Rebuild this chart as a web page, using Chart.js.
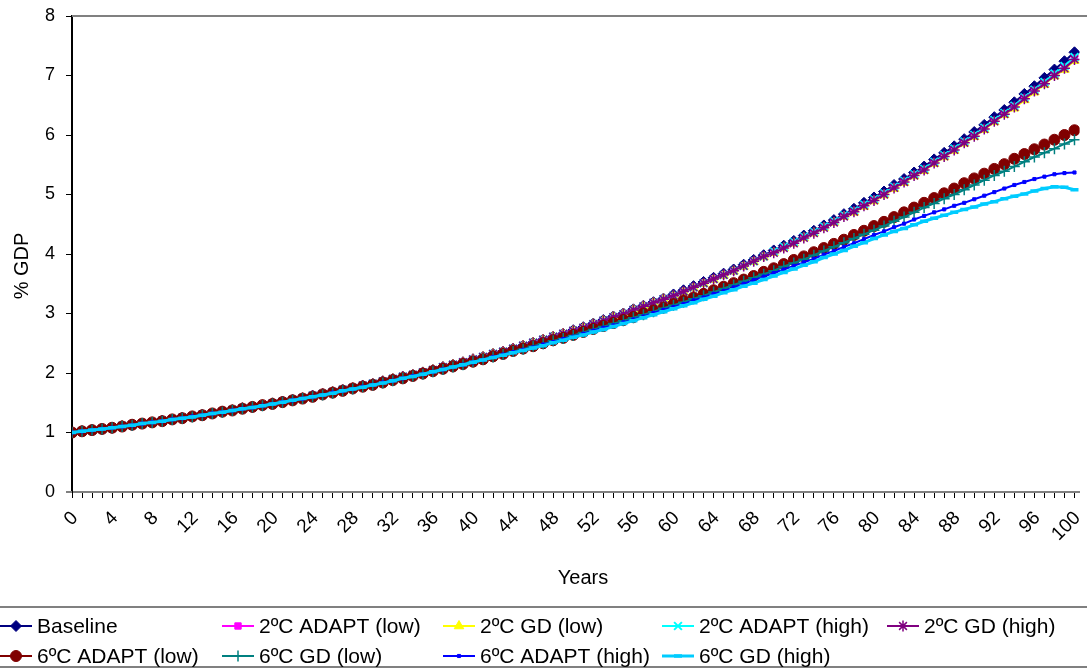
<!DOCTYPE html>
<html><head><meta charset="utf-8">
<script src="https://cdn.jsdelivr.net/npm/chart.js@4/dist/chart.umd.min.js"></script>
<style>html,body{margin:0;padding:0;background:#fff;overflow:hidden}#wrap{width:1087px;height:669px;position:relative}canvas{display:block}</style>
</head><body><div id="wrap"><canvas id="c" width="1087" height="669"></canvas></div>
<script>
const years = [0,1,2,3,4,5,6,7,8,9,10,11,12,13,14,15,16,17,18,19,20,21,22,23,24,25,26,27,28,29,30,31,32,33,34,35,36,37,38,39,40,41,42,43,44,45,46,47,48,49,50,51,52,53,54,55,56,57,58,59,60,61,62,63,64,65,66,67,68,69,70,71,72,73,74,75,76,77,78,79,80,81,82,83,84,85,86,87,88,89,90,91,92,93,94,95,96,97,98,99,100];

const baseline = [1.00,1.02,1.04,1.06,1.08,1.11,1.13,1.15,1.17,1.20,
 1.22,1.25,1.27,1.30,1.32,1.35,1.38,1.41,1.43,1.46,
 1.49,1.52,1.55,1.58,1.62,1.65,1.68,1.72,1.75,1.79,
 1.82,1.86,1.90,1.94,1.97,2.01,2.05,2.10,2.14,2.18,
 2.23,2.27,2.32,2.36,2.41,2.46,2.51,2.56,2.61,2.66,
 2.72,2.77,2.83,2.89,2.95,3.00,3.07,3.13,3.19,3.25,
 3.32,3.39,3.46,3.53,3.60,3.67,3.74,3.82,3.90,3.98,
 4.06,4.14,4.22,4.31,4.39,4.48,4.57,4.67,4.76,4.86,
 4.95,5.05,5.16,5.26,5.37,5.47,5.59,5.70,5.81,5.93,
 6.05,6.17,6.30,6.42,6.55,6.69,6.82,6.96,7.10,7.24,
 7.39];

const adapt2Low = [1.00,1.02,1.04,1.06,1.08,1.11,1.13,1.15,1.17,1.20,
 1.22,1.25,1.27,1.30,1.32,1.35,1.38,1.41,1.43,1.46,
 1.49,1.52,1.55,1.58,1.62,1.65,1.68,1.72,1.75,1.79,
 1.82,1.86,1.90,1.94,1.97,2.01,2.05,2.10,2.14,2.18,
 2.23,2.27,2.32,2.36,2.41,2.46,2.51,2.56,2.61,2.66,
 2.71,2.76,2.82,2.88,2.94,2.99,3.06,3.12,3.18,3.24,
 3.30,3.37,3.44,3.51,3.58,3.65,3.72,3.80,3.88,3.96,
 4.03,4.11,4.19,4.28,4.36,4.45,4.54,4.64,4.72,4.82,
 4.91,5.01,5.12,5.22,5.33,5.42,5.54,5.65,5.76,5.88,
 5.99,6.11,6.24,6.36,6.48,6.62,6.75,6.88,7.02,7.14,
 7.29];

const gd2Low = [1.00,1.02,1.04,1.06,1.08,1.11,1.13,1.15,1.17,1.20,
 1.22,1.25,1.27,1.30,1.32,1.35,1.38,1.41,1.43,1.46,
 1.49,1.52,1.55,1.58,1.62,1.65,1.68,1.72,1.75,1.79,
 1.82,1.86,1.90,1.94,1.97,2.01,2.05,2.10,2.14,2.18,
 2.23,2.27,2.32,2.36,2.41,2.46,2.51,2.56,2.61,2.66,
 2.71,2.76,2.82,2.88,2.94,2.99,3.06,3.12,3.18,3.24,
 3.29,3.36,3.43,3.50,3.57,3.64,3.71,3.79,3.87,3.95,
 4.02,4.10,4.18,4.27,4.35,4.44,4.53,4.63,4.70,4.80,
 4.89,4.99,5.10,5.20,5.31,5.40,5.52,5.63,5.74,5.86,
 5.97,6.09,6.22,6.34,6.45,6.59,6.72,6.85,6.99,7.10,
 7.25];

const adapt2High = [1.00,1.02,1.04,1.06,1.08,1.11,1.13,1.15,1.17,1.20,
 1.22,1.25,1.27,1.30,1.32,1.35,1.38,1.41,1.43,1.46,
 1.49,1.52,1.55,1.58,1.62,1.65,1.68,1.72,1.75,1.79,
 1.82,1.86,1.90,1.94,1.97,2.01,2.05,2.10,2.14,2.18,
 2.23,2.27,2.32,2.36,2.41,2.46,2.51,2.56,2.61,2.66,
 2.71,2.76,2.82,2.88,2.94,2.99,3.06,3.12,3.18,3.24,
 3.30,3.37,3.44,3.51,3.58,3.65,3.72,3.80,3.88,3.96,
 4.04,4.12,4.20,4.29,4.37,4.46,4.55,4.65,4.73,4.83,
 4.92,5.02,5.13,5.23,5.34,5.43,5.55,5.66,5.77,5.89,
 6.00,6.12,6.25,6.37,6.49,6.63,6.76,6.89,7.03,7.16,
 7.31];

const gd2High = [1.00,1.02,1.04,1.06,1.08,1.11,1.13,1.15,1.17,1.20,
 1.22,1.25,1.27,1.30,1.32,1.35,1.38,1.41,1.43,1.46,
 1.49,1.52,1.55,1.58,1.62,1.65,1.68,1.72,1.75,1.79,
 1.82,1.86,1.90,1.94,1.97,2.01,2.05,2.10,2.14,2.18,
 2.23,2.27,2.32,2.36,2.41,2.46,2.51,2.56,2.61,2.66,
 2.71,2.76,2.82,2.88,2.94,2.99,3.06,3.12,3.18,3.24,
 3.30,3.37,3.44,3.51,3.58,3.65,3.72,3.80,3.88,3.96,
 4.02,4.10,4.18,4.27,4.35,4.44,4.53,4.63,4.71,4.81,
 4.90,5.00,5.11,5.21,5.32,5.41,5.53,5.64,5.75,5.87,
 5.98,6.10,6.23,6.35,6.47,6.61,6.74,6.86,7.00,7.12,
 7.27];

const adapt6Low = [1.00,1.02,1.04,1.06,1.08,1.10,1.13,1.15,1.17,1.19,
 1.22,1.24,1.27,1.29,1.32,1.35,1.37,1.40,1.43,1.46,
 1.48,1.51,1.54,1.57,1.60,1.64,1.67,1.70,1.74,1.77,
 1.80,1.84,1.88,1.91,1.95,1.99,2.03,2.07,2.11,2.15,
 2.19,2.23,2.28,2.32,2.37,2.41,2.45,2.50,2.55,2.59,
 2.64,2.69,2.74,2.79,2.84,2.89,2.94,3.00,3.05,3.10,
 3.16,3.22,3.27,3.33,3.39,3.45,3.51,3.57,3.63,3.70,
 3.76,3.83,3.90,3.96,4.03,4.10,4.17,4.24,4.32,4.39,
 4.47,4.54,4.62,4.70,4.78,4.86,4.94,5.02,5.10,5.19,
 5.27,5.35,5.43,5.51,5.60,5.68,5.76,5.84,5.92,6.00,
 6.08];

const gd6Low = [1.00,1.02,1.04,1.06,1.08,1.10,1.12,1.15,1.17,1.19,
 1.22,1.24,1.26,1.29,1.32,1.34,1.37,1.40,1.43,1.45,
 1.48,1.51,1.54,1.57,1.60,1.63,1.66,1.70,1.73,1.77,
 1.80,1.83,1.87,1.91,1.95,1.98,2.02,2.06,2.10,2.14,
 2.19,2.23,2.27,2.31,2.36,2.40,2.45,2.49,2.54,2.58,
 2.63,2.68,2.73,2.78,2.83,2.88,2.93,2.98,3.03,3.09,
 3.14,3.19,3.25,3.30,3.36,3.42,3.48,3.54,3.60,3.66,
 3.72,3.79,3.85,3.91,3.98,4.05,4.12,4.19,4.26,4.33,
 4.40,4.47,4.55,4.62,4.70,4.78,4.85,4.93,5.00,5.08,
 5.16,5.24,5.32,5.39,5.47,5.55,5.63,5.70,5.77,5.85,
 5.92];

const adapt6High = [1.00,1.02,1.04,1.06,1.08,1.10,1.12,1.15,1.17,1.19,
 1.22,1.24,1.27,1.29,1.32,1.34,1.37,1.40,1.42,1.45,
 1.48,1.51,1.54,1.57,1.60,1.63,1.67,1.70,1.73,1.77,
 1.80,1.84,1.87,1.91,1.95,1.98,2.02,2.06,2.10,2.14,
 2.18,2.22,2.27,2.31,2.35,2.39,2.43,2.48,2.52,2.57,
 2.61,2.66,2.71,2.76,2.80,2.85,2.90,2.95,3.01,3.06,
 3.11,3.16,3.22,3.27,3.33,3.38,3.44,3.50,3.56,3.62,
 3.68,3.74,3.80,3.86,3.92,3.99,4.05,4.12,4.18,4.25,
 4.32,4.38,4.45,4.51,4.58,4.64,4.70,4.75,4.81,4.86,
 4.92,4.98,5.04,5.10,5.16,5.21,5.26,5.30,5.34,5.36,
 5.37];

const gd6High = [1.00,1.02,1.04,1.06,1.08,1.10,1.12,1.15,1.17,1.19,
 1.22,1.24,1.26,1.29,1.32,1.34,1.37,1.40,1.42,1.45,
 1.48,1.51,1.54,1.57,1.60,1.63,1.66,1.70,1.73,1.76,
 1.80,1.83,1.87,1.91,1.94,1.98,2.02,2.06,2.10,2.14,
 2.18,2.22,2.26,2.30,2.34,2.38,2.42,2.46,2.51,2.55,
 2.60,2.64,2.69,2.73,2.78,2.83,2.88,2.93,2.98,3.03,
 3.08,3.13,3.18,3.24,3.29,3.35,3.40,3.46,3.51,3.57,
 3.63,3.69,3.75,3.81,3.87,3.94,4.00,4.06,4.13,4.19,
 4.26,4.32,4.38,4.43,4.49,4.55,4.60,4.65,4.70,4.75,
 4.79,4.84,4.88,4.93,4.97,5.01,5.06,5.10,5.13,5.12,
 5.08];

const seriesNames = ['Baseline','2ºC ADAPT (low)','2ºC GD (low)','2ºC ADAPT (high)','2ºC GD (high)',
  '6ºC ADAPT (low)','6ºC GD (low)','6ºC ADAPT (high)','6ºC GD (high)'];
const yTicks = [0,1,2,3,4,5,6,7,8];

const FONT = "'Liberation Sans', Arial, Helvetica, sans-serif";
Chart.defaults.font.family = FONT;
Chart.defaults.color = '#000';

const styles = [
  {c:'#000080', ps:'rectRot', r:5.5, bw:1, fill:'#000080', lw:2},
  {c:'#FF00FF', ps:'rect', r:4.5, bw:1, fill:'#FF00FF', lw:2},
  {c:'#FFFF00', ps:'triangle', r:5.5, bw:1, fill:'#FFFF00', lw:2},
  {c:'#00FFFF', ps:'crossRot', r:5.5, bw:2, fill:'#00FFFF', lw:2},
  {c:'#800080', ps:'star', r:5.5, bw:1.5, fill:'#800080', lw:2},
  {c:'#800000', ps:'circle', r:5.5, bw:1, fill:'#800000', lw:2},
  {c:'#008080', ps:'cross', r:5.5, bw:1.5, fill:'#008080', lw:2},
  {c:'#0000FF', ps:'rect', r:2.2, bw:1, fill:'#0000FF', lw:2},
  {c:'#00CCFF', ps:'line', r:4, bw:3.5, fill:'#00CCFF', lw:3}
];
const seriesData = [baseline, adapt2Low, gd2Low, adapt2High, gd2High, adapt6Low, gd6Low, adapt6High, gd6High];

const datasets = seriesData.map((d, i) => ({
  label: seriesNames[i],
  data: d,
  borderColor: styles[i].c,
  backgroundColor: styles[i].fill,
  borderWidth: styles[i].lw,
  pointStyle: styles[i].ps,
  pointRadius: styles[i].r,
  pointBorderWidth: styles[i].bw,
  pointBackgroundColor: styles[i].fill,
  pointBorderColor: styles[i].c,
  pointHoverRadius: styles[i].r,
  tension: 0,
  fill: false,
  order: 9 - i
}));

const LEGEND_POS = [
  {x:0,row:0},{x:222,row:0},{x:443,row:0},{x:662,row:0},{x:887,row:0},
  {x:0,row:1},{x:222,row:1},{x:443,row:1},{x:662,row:1}
];

const framePlugin = {
  id: 'frame',
  beforeDatasetsDraw(chart) {
    const {ctx, chartArea: a} = chart;
    ctx.save();
    ctx.strokeStyle = '#808080';
    ctx.lineWidth = 2;
    ctx.beginPath();
    ctx.moveTo(a.left, a.top);
    ctx.lineTo(chart.width, a.top);
    ctx.moveTo(a.left - 6, a.bottom);
    ctx.lineTo(a.left, a.bottom);
    ctx.stroke();
    ctx.restore();
  },
  afterDraw(chart) {
    const ctx = chart.ctx;
    ctx.save();
    ctx.fillStyle = '#000';
    ctx.font = '20px ' + FONT;
    ctx.textAlign = 'center';
    ctx.textBaseline = 'middle';
    ctx.fillText('Years', 583, 578);
    ctx.save();
    ctx.translate(22, 266);
    ctx.rotate(-Math.PI / 2);
    ctx.fillText('% GDP', 0, 0);
    ctx.restore();
    ctx.strokeStyle = '#808080';
    ctx.lineWidth = 2;
    ctx.beginPath();
    ctx.moveTo(0, 607); ctx.lineTo(chart.width, 607);
    ctx.moveTo(0, 667); ctx.lineTo(chart.width, 667);
    ctx.stroke();
    ctx.font = '21px ' + FONT;
    ctx.textAlign = 'left';
    ctx.textBaseline = 'middle';
    LEGEND_POS.forEach((p, i) => {
      const ds = chart.data.datasets[i];
      const y = p.row === 0 ? 626 : 656;
      ctx.strokeStyle = ds.borderColor;
      ctx.lineWidth = ds.borderWidth;
      ctx.beginPath();
      ctx.moveTo(p.x, y); ctx.lineTo(p.x + 32, y);
      ctx.stroke();
      ctx.fillStyle = ds.pointBackgroundColor;
      ctx.strokeStyle = ds.pointBorderColor;
      ctx.lineWidth = ds.pointBorderWidth;
      if (Chart.helpers && Chart.helpers.drawPoint) {
        Chart.helpers.drawPoint(ctx, {pointStyle: ds.pointStyle, radius: ds.pointRadius, borderWidth: ds.pointBorderWidth, rotation: 0}, p.x + 16, y);
      } else {
        ctx.fillRect(p.x + 12, y - 4, 8, 8);
      }
      ctx.fillStyle = '#000';
      ctx.fillText(ds.label, p.x + 37, y + 1);
    });
    ctx.restore();
  }
};

new Chart(document.getElementById('c'), {
  type: 'line',
  data: { labels: years, datasets },
  options: {
    responsive: false,
    animation: false,
    devicePixelRatio: 1,
    layout: { padding: { top: 16, right: 0, bottom: 67, left: 0 } },
    plugins: { legend: { display: false }, tooltip: { enabled: false } },
    scales: {
      x: {
        type: 'linear',
        min: 0,
        max: 100.5,
        afterBuildTicks: s => { s.ticks = years.map(v => ({ value: v })); },
        afterFit: s => { s.height = 110; s.paddingLeft = 0; s.paddingRight = 0; },
        ticks: {
          autoSkip: false, minRotation: 45, maxRotation: 45, padding: 9, labelOffset: 3,
          font: { size: 19 }, color: '#000',
          callback: v => (v % 4 === 0 ? String(v) : '')
        },
        grid: { display: true, drawOnChartArea: false, drawTicks: true, tickLength: 6, tickColor: '#000', tickWidth: 1, color: '#000' },
        border: { display: true, color: '#808080', width: 2 }
      },
      y: {
        min: 0,
        max: 8,
        afterBuildTicks: s => { s.ticks = yTicks.map(v => ({ value: v })); },
        afterFit: s => { s.width = 72; s.paddingTop = 0; s.paddingBottom = 0; },
        ticks: { padding: 11, font: { size: 18 }, color: '#000' },
        grid: { display: true, drawOnChartArea: false, drawTicks: true, tickLength: 6, tickColor: '#000', tickWidth: 1, color: '#000' },
        border: { display: true, color: '#000', width: 2 }
      }
    }
  },
  plugins: [framePlugin]
});
</script>
</body></html>
